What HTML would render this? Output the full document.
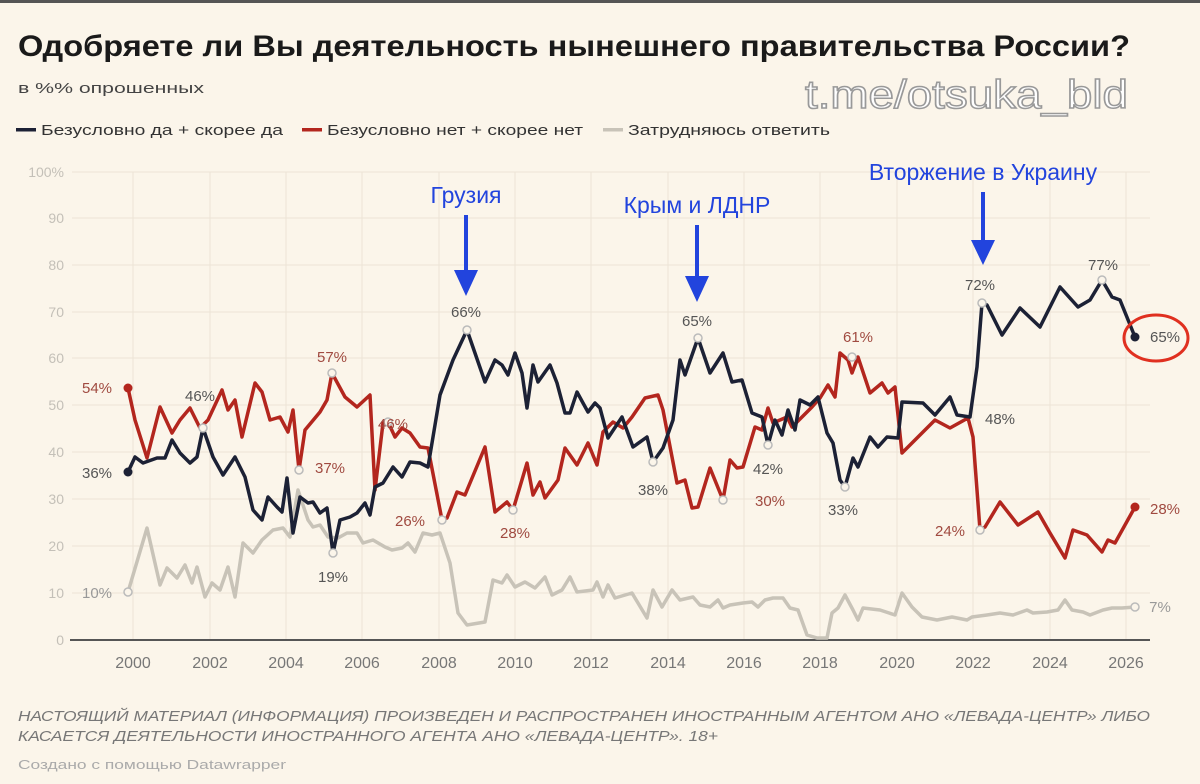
<!DOCTYPE html>
<html><head><meta charset="utf-8"><style>
body{margin:0;background:#fbf5ea;}
svg{display:block;font-family:"Liberation Sans","DejaVu Sans",sans-serif;}
</style></head><body>
<svg width="1200" height="784" viewBox="0 0 1200 784">
<rect width="1200" height="784" fill="#fbf5ea"/>
<rect width="1200" height="3" fill="#555"/>
<text x="18" y="56" font-size="30" font-weight="bold" fill="#1a1a1a" textLength="1112" lengthAdjust="spacingAndGlyphs">Одобряете ли Вы деятельность нынешнего правительства России?</text>
<text x="18" y="93" font-size="15" fill="#444" textLength="186" lengthAdjust="spacingAndGlyphs">в %% опрошенных</text>
<text x="805" y="108" font-size="40" fill="#fff" stroke="#999" stroke-width="1.5" textLength="323" lengthAdjust="spacingAndGlyphs">t.me/otsuka_bld</text>
<g font-size="15" fill="#333">
<rect x="16" y="128" width="20" height="3.5" fill="#1c2135"/><text x="41" y="135" textLength="242" lengthAdjust="spacingAndGlyphs">Безусловно да + скорее да</text>
<rect x="302" y="128" width="20" height="3.5" fill="#b3261e"/><text x="327" y="135" textLength="256" lengthAdjust="spacingAndGlyphs">Безусловно нет + скорее нет</text>
<rect x="603" y="128" width="20" height="3.5" fill="#c8c3b8"/><text x="628" y="135" textLength="202" lengthAdjust="spacingAndGlyphs">Затрудняюсь ответить</text>
</g>
<g stroke="#ece4d6" stroke-width="1">
<line x1="72" y1="172" x2="1150" y2="172"/><line x1="72" y1="218" x2="1150" y2="218"/><line x1="72" y1="265" x2="1150" y2="265"/><line x1="72" y1="312" x2="1150" y2="312"/><line x1="72" y1="358" x2="1150" y2="358"/><line x1="72" y1="405" x2="1150" y2="405"/><line x1="72" y1="452" x2="1150" y2="452"/><line x1="72" y1="499" x2="1150" y2="499"/><line x1="72" y1="546" x2="1150" y2="546"/><line x1="72" y1="593" x2="1150" y2="593"/>
<line x1="133" y1="172" x2="133" y2="640"/><line x1="210" y1="172" x2="210" y2="640"/><line x1="286" y1="172" x2="286" y2="640"/><line x1="362" y1="172" x2="362" y2="640"/><line x1="439" y1="172" x2="439" y2="640"/><line x1="515" y1="172" x2="515" y2="640"/><line x1="591" y1="172" x2="591" y2="640"/><line x1="668" y1="172" x2="668" y2="640"/><line x1="744" y1="172" x2="744" y2="640"/><line x1="820" y1="172" x2="820" y2="640"/><line x1="897" y1="172" x2="897" y2="640"/><line x1="973" y1="172" x2="973" y2="640"/><line x1="1050" y1="172" x2="1050" y2="640"/><line x1="1126" y1="172" x2="1126" y2="640"/>
</g>
<line x1="70" y1="640" x2="1150" y2="640" stroke="#555" stroke-width="2"/>
<g font-size="14" fill="#c4c0b8" text-anchor="end">
<text x="64" y="177">100%</text><text x="64" y="223">90</text><text x="64" y="270">80</text><text x="64" y="317">70</text><text x="64" y="363">60</text><text x="64" y="410">50</text><text x="64" y="457">40</text><text x="64" y="504">30</text><text x="64" y="551">20</text><text x="64" y="598">10</text><text x="64" y="645">0</text>
</g>
<g font-size="16" fill="#777" text-anchor="middle">
<text x="133" y="668">2000</text><text x="210" y="668">2002</text><text x="286" y="668">2004</text><text x="362" y="668">2006</text><text x="439" y="668">2008</text><text x="515" y="668">2010</text><text x="591" y="668">2012</text><text x="668" y="668">2014</text><text x="744" y="668">2016</text><text x="820" y="668">2018</text><text x="897" y="668">2020</text><text x="973" y="668">2022</text><text x="1050" y="668">2024</text><text x="1126" y="668">2026</text>
</g>
<g fill="none" stroke-width="3.5" stroke-linejoin="round">
<polyline stroke="#c8c3b8" points="128,592 147,528 160,585 167,568 177,578 185,565 192,583 197,567 205,597 212,583 220,590 228,567 235,597 243,543 253,553 262,540 273,530 283,528 290,537 298,490 308,520 313,527 320,525 328,537 338,538 347,533 357,533 363,543 373,540 385,547 392,550 402,548 408,543 415,552 423,533 432,535 440,533 450,563 458,613 467,625 485,622 493,580 502,583 507,575 515,587 525,582 535,588 545,577 552,595 562,590 570,577 577,592 593,590 597,582 603,597 608,585 615,598 632,593 647,618 653,590 662,607 672,590 680,600 693,597 700,605 710,607 718,600 723,608 730,605 743,603 752,602 758,607 765,600 773,598 783,598 790,608 798,610 807,635 817,638 827,638 832,613 838,608 845,595 853,610 858,620 863,608 880,610 895,615 902,593 912,607 922,617 937,620 952,617 967,620 972,617 987,615 1000,613 1013,615 1027,610 1033,613 1047,612 1058,610 1065,600 1072,610 1083,612 1090,615 1103,610 1112,608 1122,608 1135,607"/>
<polyline stroke="#b3261e" points="128,388 135,420 147,458 160,407 172,433 180,420 190,408 200,428 208,420 222,390 228,410 235,400 242,437 255,383 262,392 270,420 280,417 288,432 293,410 299,470 305,430 320,412 327,400 332,373 345,397 357,407 370,395 375,490 383,423 388,422 395,437 402,428 410,433 420,447 428,448 442,520 447,518 457,492 465,495 485,447 495,512 507,502 513,510 527,463 533,495 540,482 545,498 558,480 565,448 577,465 588,443 597,465 603,432 613,422 623,428 632,417 645,398 658,395 663,410 677,483 685,480 692,508 698,507 710,468 723,500 730,460 737,468 743,467 755,427 762,430 768,408 773,423 787,417 792,427 802,417 812,407 820,398 828,385 835,397 840,353 848,360 852,373 858,357 870,393 882,383 888,393 895,387 902,453 917,438 935,420 950,428 968,418 973,437 980,530 985,527 1000,502 1018,525 1038,512 1050,533 1065,558 1073,530 1087,535 1102,552 1108,540 1115,543 1135,507"/>
<polyline stroke="#1c2135" points="128,472 135,457 143,463 157,458 165,458 172,440 180,453 190,463 197,457 203,428 213,457 223,475 235,457 245,477 253,510 262,520 268,497 277,507 282,512 287,478 293,533 300,497 308,503 313,502 320,513 327,508 333,553 340,520 350,517 357,513 365,503 370,515 375,487 383,483 393,467 402,477 410,462 420,463 428,467 440,395 453,360 467,330 485,382 495,360 502,365 508,375 515,353 522,373 527,408 533,365 538,382 550,365 557,383 565,413 570,413 577,392 583,403 588,412 595,403 600,408 608,438 622,417 633,447 647,437 653,462 663,448 673,420 680,360 685,375 698,338 710,373 723,353 732,382 742,380 752,413 762,417 768,445 775,420 782,435 788,410 795,430 800,400 810,405 818,397 827,433 833,443 840,480 845,487 853,458 858,467 870,437 878,447 887,437 898,438 902,402 923,403 935,415 950,397 957,415 970,417 977,367 982,303 987,305 1002,335 1020,308 1040,327 1060,287 1078,307 1090,300 1102,280 1112,297 1120,300 1135,337"/>
</g>
<g fill="#fbf5ea" stroke="#bbb" stroke-width="1.5">
<circle cx="203" cy="428" r="4"/><circle cx="299" cy="470" r="4"/><circle cx="332" cy="373" r="4"/><circle cx="333" cy="553" r="4"/><circle cx="388" cy="422" r="4"/><circle cx="442" cy="520" r="4"/><circle cx="467" cy="330" r="4"/><circle cx="513" cy="510" r="4"/><circle cx="653" cy="462" r="4"/><circle cx="698" cy="338" r="4"/><circle cx="723" cy="500" r="4"/><circle cx="768" cy="445" r="4"/><circle cx="852" cy="357" r="4"/><circle cx="845" cy="487" r="4"/><circle cx="982" cy="303" r="4"/><circle cx="980" cy="530" r="4"/><circle cx="1102" cy="280" r="4"/><circle cx="1135" cy="607" r="4"/><circle cx="128" cy="592" r="4"/>
</g>
<circle cx="128" cy="472" r="4.5" fill="#1c2135"/><circle cx="128" cy="388" r="4.5" fill="#b3261e"/>
<circle cx="1135" cy="337" r="4.5" fill="#1c2135"/><circle cx="1135" cy="507" r="4.5" fill="#b3261e"/>
<g font-size="15" text-anchor="middle">
<text x="97" y="478" fill="#555">36%</text><text x="97" y="393" fill="#a04a40">54%</text><text x="200" y="401" fill="#555">46%</text><text x="97" y="598" fill="#999">10%</text>
<text x="332" y="362" fill="#a04a40">57%</text><text x="330" y="473" fill="#a04a40">37%</text><text x="333" y="582" fill="#555">19%</text><text x="393" y="429" fill="#a04a40">46%</text><text x="410" y="526" fill="#a04a40">26%</text>
<text x="466" y="317" fill="#555">66%</text><text x="515" y="538" fill="#a04a40">28%</text><text x="653" y="495" fill="#555">38%</text><text x="697" y="326" fill="#555">65%</text><text x="770" y="506" fill="#a04a40">30%</text><text x="768" y="474" fill="#555">42%</text>
<text x="858" y="342" fill="#a04a40">61%</text><text x="843" y="515" fill="#555">33%</text><text x="980" y="290" fill="#555">72%</text><text x="1000" y="424" fill="#555">48%</text><text x="950" y="536" fill="#a04a40">24%</text><text x="1103" y="270" fill="#555">77%</text>
<text x="1165" y="342" fill="#555">65%</text><text x="1165" y="514" fill="#a04a40">28%</text><text x="1160" y="612" fill="#999">7%</text>
</g>
<ellipse cx="1156" cy="338" rx="32" ry="23" fill="none" stroke="#e03020" stroke-width="3"/>
<g fill="#2244dd" font-size="23" text-anchor="middle">
<text x="466" y="203">Грузия</text><text x="697" y="213">Крым и ЛДНР</text><text x="983" y="180">Вторжение в Украину</text>
</g>
<g stroke="#2244dd" stroke-width="4"><line x1="466" y1="215" x2="466" y2="275"/><line x1="697" y1="225" x2="697" y2="280"/><line x1="983" y1="192" x2="983" y2="245"/></g>
<g fill="#2244dd"><polygon points="454,270 478,270 466,296"/><polygon points="685,276 709,276 697,302"/><polygon points="971,240 995,240 983,265"/></g>
<g font-size="15" font-style="italic" fill="#777">
<text x="18" y="721" textLength="1132" lengthAdjust="spacingAndGlyphs">НАСТОЯЩИЙ МАТЕРИАЛ (ИНФОРМАЦИЯ) ПРОИЗВЕДЕН И РАСПРОСТРАНЕН ИНОСТРАННЫМ АГЕНТОМ АНО «ЛЕВАДА-ЦЕНТР» ЛИБО</text>
<text x="18" y="741" textLength="700" lengthAdjust="spacingAndGlyphs">КАСАЕТСЯ ДЕЯТЕЛЬНОСТИ ИНОСТРАННОГО АГЕНТА АНО «ЛЕВАДА-ЦЕНТР». 18+</text>
</g>
<text x="18" y="769" font-size="13" fill="#aaa" textLength="268" lengthAdjust="spacingAndGlyphs">Создано с помощью Datawrapper</text>
</svg>
</body></html>
